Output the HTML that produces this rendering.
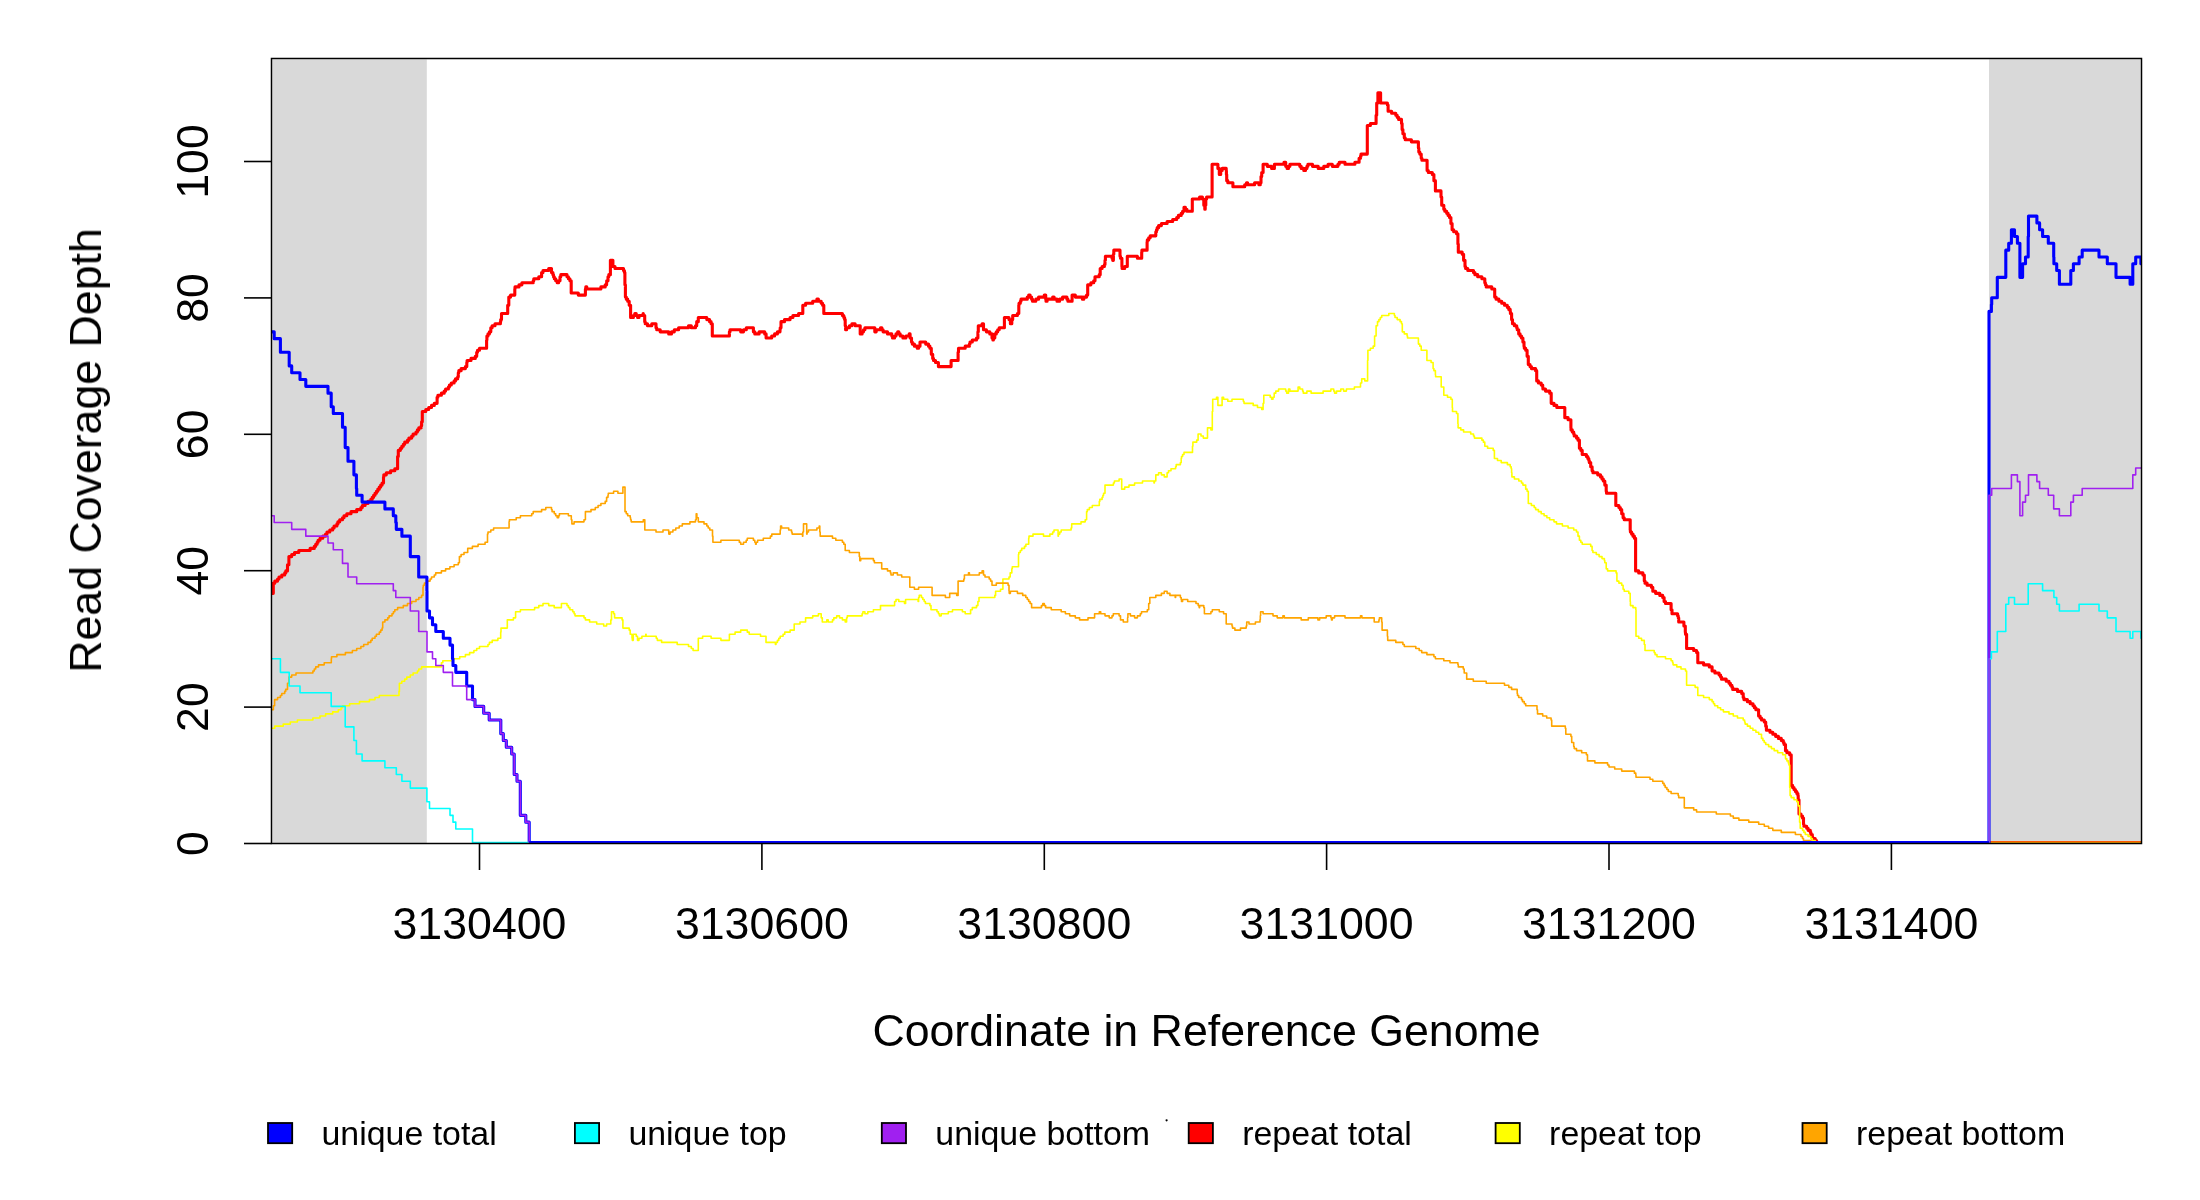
<!DOCTYPE html>
<html><head><meta charset="utf-8"><style>html,body{margin:0;padding:0;background:#fff;width:2200px;height:1200px;overflow:hidden}svg{display:block}text{font-family:"Liberation Sans",sans-serif}</style></head>
<body><svg width="2200" height="1200" viewBox="0 0 2200 1200" font-family="Liberation Sans, sans-serif" fill="#000"><rect x="272.4" y="59.4" width="154.4" height="784.6" fill="#d9d9d9"/>
<rect x="1989" y="59.4" width="151.6" height="784.6" fill="#d9d9d9"/>
<defs><clipPath id="pc"><rect x="271.5" y="58.5" width="1870" height="785"/></clipPath></defs><g clip-path="url(#pc)">
<path d="M272.0,593.35H273.3V583.14H274.8V581.10H277.6V579.05H279.0V577.01H281.8V574.97H284.7V572.92H285.8V570.88H287.5V564.75H288.9V556.58H291.7V554.54H294.5V552.49H298.8V550.45H310.1V548.41H314.3V546.37H315.7V544.32H317.1V542.28H318.1V540.24H320.0V538.19H322.8V536.15H325.6V534.11H327.0V532.06H329.8V530.02H332.7V527.98H334.1V525.94H336.9V523.89H337.9V521.85H339.7V519.81H342.5V517.76H344.0V515.72H346.8V513.68H351.0V511.63H356.7V509.59H360.9V507.55H362.3V505.51H365.1V503.46H368.0V501.42H370.8V499.38H372.2V497.33H373.6V495.29H375.0V493.25H376.4V491.20H377.8V489.16H379.3V487.12H380.7V485.08H382.1V483.03H383.5V476.90H383.8V474.86H386.3V472.82H390.6V470.77H394.8V468.73H397.6V456.47H398.3V450.34H400.4V448.30H401.8V446.26H403.3V444.22H404.7V442.17H407.5V440.13H408.9V438.09H411.7V436.04H413.1V434.00H416.0V431.96H417.4V429.91H418.8V427.87H421.2V425.83H421.6V421.74H422.3V411.53H425.8V409.48H428.7V407.44H431.5V405.40H434.3V403.36H437.1V397.23H437.9V395.18H441.4V393.14H444.2V391.10H445.6V389.05H448.4V387.01H449.4V384.97H451.3V382.93H454.1V380.88H455.5V378.84H457.7V376.80H458.3V372.71H458.8V370.67H461.1V368.62H465.4V366.58H466.8V362.50H467.1V360.45H471.0V358.41H475.3V356.37H476.7V352.28H477.5V350.24H479.5V348.19H486.6V340.02H486.9V335.94H488.0V333.89H489.4V331.85H490.8V327.76H492.1V325.72H495.0V323.68H500.4V321.64H500.7V319.59H501.5V313.46H507.7V305.29H508.8V297.12H510.6V295.08H514.8V288.95H515.0V286.90H519.0V284.86H521.9V282.82H533.2V280.78H533.8V278.73H538.8V276.69H541.6V272.60H543.0V270.56H548.7V268.52H551.5V272.60H552.9V274.65H553.5V276.69H554.3V278.73H555.7V280.78H557.2V282.82H558.6V280.78H560.0V276.69H560.8V274.65H567.0V276.69H568.4V278.73H569.9V280.78H571.2V293.03H578.3V295.08H585.4V288.95H585.8V286.90H586.8V288.95H600.9V286.90H605.2V284.86H606.6V282.82H606.7V280.78H608.0V276.69H608.8V274.65H610.4V260.35H612.9V266.47H615.0V268.52H623.5V270.56H624.4V272.60H624.9V284.86H625.4V297.12H626.3V299.16H627.7V301.21H629.2V305.29H630.6V317.55H633.4V315.51H634.8V313.46H636.2V315.51H637.6V317.55H639.0V315.51H643.1V313.46H643.3V315.51H644.7V321.64H645.2V323.68H647.5V325.72H651.8V323.68H656.0V327.76H656.7V329.81H660.2V331.85H668.7V333.89H671.5V331.85H674.3V329.81H678.6V327.76H688.5V325.72H691.3V327.76H695.5V325.72H696.7V321.64H698.3V317.55H706.8V319.59H709.6V321.64H711.1V323.68H712.3V335.94H729.4V331.85H730.0V329.81H740.7V331.85H743.5V329.81H746.3V327.76H753.4V331.85H754.8V333.89H759.1V331.85H764.7V333.89H766.1V337.98H771.7V335.94H774.6V333.89H777.4V331.85H780.0V329.81H780.2V327.76H781.0V321.64H784.5V319.59H790.1V317.55H792.9V315.51H798.6V313.46H802.8V305.29H805.6V303.25H812.7V301.21H816.9V299.16H818.4V301.21H821.2V303.25H822.6V305.29H823.8V313.46H842.4V315.51H843.8V317.55H844.6V319.59H845.2V325.72H845.6V329.81H846.6V327.76H849.4V325.72H851.9V323.68H855.1V325.72H860.2V333.89H862.1V331.85H863.5V329.81H864.9V327.76H874.8V331.85H876.2V329.81H880.5V327.76H881.9V329.81H883.1V331.85H887.5V333.89H891.8V335.94H892.5V337.98H894.6V335.94H896.0V333.89H897.7V331.85H898.8V333.89H900.2V335.94H902.9V337.98H905.9V335.94H909.2V333.89H910.1V337.98H911.5V342.07H912.3V344.11H914.4V346.15H917.2V348.19H918.6V346.15H920.0V342.07H925.7V344.11H928.5V346.15H929.9V348.19H931.3V354.32H932.7V358.41H933.5V360.45H935.5V362.50H938.4V366.58H951.1V360.45H958.1V352.28H958.5V348.19H965.2V346.15H969.4V344.11H970.0V342.07H972.3V340.02H976.5V337.98H977.9V331.85H978.3V325.72H982.1V323.68H983.5V329.81H986.4V331.85H989.8V333.89H992.0V337.98H992.9V340.02H993.4V337.98H994.8V333.89H996.3V331.85H997.7V329.81H999.2V327.76H1004.4V317.55H1009.0V319.59H1010.4V323.68H1011.8V319.59H1012.7V315.51H1017.4V313.46H1018.8V305.29H1019.0V303.25H1020.3V301.21H1021.0V299.16H1027.3V297.12H1028.7V295.08H1030.1V297.12H1031.6V299.16H1032.5V301.21H1035.8V299.16H1038.6V297.12H1044.3V295.08H1045.7V299.16H1046.0V301.21H1047.1V299.16H1052.7V297.12H1054.1V299.16H1057.0V301.21H1059.6V299.16H1062.6V297.12H1066.9V299.16H1067.9V301.21H1072.1V295.08H1075.3V297.12H1082.4V299.16H1083.8V297.12H1086.6V295.08H1087.7V284.86H1090.9V282.82H1093.7V280.78H1095.0V276.69H1099.2V274.65H1100.2V268.52H1102.1V266.47H1104.4V264.43H1105.0V260.35H1105.4V256.26H1112.0V258.30H1112.7V260.35H1113.4V254.22H1113.8V250.13H1120.0V256.26H1120.5V258.30H1121.9V266.47H1122.1V268.52H1124.7V266.47H1127.3V256.26H1137.4V258.30H1141.7V252.17H1141.9V250.13H1147.1V241.96H1147.3V239.92H1148.7V237.87H1150.2V235.83H1155.8V231.74H1156.5V229.70H1157.2V227.66H1158.6V225.61H1161.4V223.57H1167.1V221.53H1172.7V219.49H1176.7V217.44H1178.4V215.40H1181.2V213.36H1182.6V211.31H1184.0V207.23H1185.4V209.27H1186.9V211.31H1192.3V199.06H1199.6V197.01H1202.4V199.06H1203.8V205.18H1204.8V209.27H1205.2V205.18H1205.8V199.06H1206.6V197.01H1212.1V164.32H1217.9V168.41H1219.3V174.54H1220.7V170.45H1222.2V168.41H1226.2V170.45H1226.4V174.54H1226.7V180.67H1227.8V182.71H1232.9V186.80H1244.7V184.75H1246.5V182.71H1247.6V184.75H1254.6V182.71H1258.9V184.75H1260.3V182.71H1261.0V176.58H1261.7V172.50H1263.1V164.32H1267.3V166.37H1271.6V168.41H1274.4V164.32H1284.0V162.28H1285.7V166.37H1287.1V168.41H1288.5V166.37H1289.9V164.32H1299.8V166.37H1301.2V168.41H1303.8V170.45H1305.5V168.41H1306.9V166.37H1307.9V164.32H1312.5V166.37H1318.2V168.41H1323.8V166.37H1328.1V164.32H1332.3V166.37H1337.9V164.32H1339.2V162.28H1345.0V164.32H1354.9V162.28H1359.1V158.20H1360.5V156.15H1361.0V154.11H1367.3V125.51H1370.4V123.46H1376.1V115.29H1376.7V103.03H1377.9V92.82H1380.6V103.03H1387.4V105.08H1388.1V111.21H1391.6V113.25H1395.8V115.29H1397.2V117.34H1398.6V119.38H1401.5V123.46H1402.1V129.59H1402.9V133.68H1404.3V137.77H1405.2V139.81H1411.4V141.85H1418.4V147.98H1418.8V152.07H1419.8V154.11H1421.2V158.20H1421.9V160.24H1427.1V170.45H1428.3V172.50H1432.3V174.54H1433.9V180.67H1435.4V190.88H1441.0V197.01H1441.7V205.18H1443.8V209.27H1444.8V211.31H1446.7V213.36H1448.1V215.40H1449.5V217.44H1450.9V223.57H1452.1V229.70H1453.7V231.74H1456.5V233.79H1457.9V244.00H1458.3V252.17H1462.2V254.22H1463.6V260.35H1465.0V266.47H1465.6V268.52H1467.8V270.56H1473.5V272.60H1474.9V274.65H1477.7V276.69H1481.9V278.73H1484.8V282.82H1485.4V284.86H1486.2V286.90H1491.8V288.95H1494.7V297.12H1496.1V299.16H1498.9V301.21H1501.7V303.25H1504.5V305.29H1507.3V307.33H1508.8V309.38H1510.2V311.42H1510.4V313.46H1511.6V319.59H1512.5V323.68H1514.4V325.72H1516.7V327.76H1517.2V329.81H1518.7V333.89H1520.1V335.94H1521.5V337.98H1522.9V342.07H1524.0V346.15H1524.3V348.19H1525.7V350.24H1527.1V356.37H1528.3V364.54H1530.0V366.58H1531.4V368.62H1535.6V370.67H1536.7V380.88H1538.4V382.93H1541.2V384.97H1542.7V387.01H1542.9V389.05H1545.5V391.10H1549.7V393.14H1551.2V403.36H1554.0V405.40H1556.8V407.44H1564.8V417.66H1568.1V419.70H1570.9V427.87H1571.0V429.91H1572.3V431.96H1573.7V434.00H1574.2V436.04H1576.5V438.09H1578.0V440.13H1579.4V448.30H1580.8V450.34H1582.2V454.43H1586.4V456.47H1587.8V458.52H1588.8V460.56H1589.3V462.60H1590.7V466.69H1592.1V470.77H1592.9V472.82H1597.7V474.86H1600.5V476.90H1602.0V478.95H1603.3V480.99H1604.8V485.08H1606.2V491.20H1606.5V493.25H1615.8V505.51H1618.9V507.55H1620.3V509.59H1621.7V513.68H1623.1V517.76H1624.2V519.81H1630.2V530.02H1630.4V532.06H1631.6V534.11H1633.0V536.15H1634.4V538.19H1635.6V570.88H1638.7V572.92H1642.9V574.97H1644.3V581.10H1645.0V583.14H1647.1V585.18H1651.4V587.23H1652.8V591.31H1655.6V593.35H1659.8V595.40H1662.7V597.44H1664.1V601.53H1665.5V603.57H1671.1V609.70H1672.0V613.78H1677.6V615.83H1678.2V617.87H1678.7V621.96H1683.9V626.04H1685.3V632.17H1685.5V634.21H1686.6V648.52H1693.7V650.56H1696.6V652.60H1697.8V662.82H1703.6V664.86H1709.3V666.90H1712.1V670.99H1714.9V673.03H1719.1V675.07H1720.6V677.12H1721.5V679.16H1726.2V681.20H1729.0V683.25H1730.4V685.29H1731.9V687.33H1732.7V689.38H1737.5V691.42H1741.7V693.46H1743.2V697.55H1743.9V699.59H1747.4V701.63H1750.2V703.68H1753.0V705.72H1754.4V707.76H1755.9V709.81H1758.6V715.93H1760.1V717.98H1761.5V720.02H1764.3V722.06H1765.7V726.15H1766.4V730.24H1770.0V732.28H1772.8V734.32H1775.6V736.36H1778.4V738.41H1781.3V740.45H1783.3V742.49H1784.1V744.54H1785.5V750.67H1786.9V752.71H1789.7V754.75H1791.2V785.40H1792.6V787.44H1794.0V789.48H1795.4V791.52H1796.8V793.57H1797.9V795.61H1798.2V799.70H1799.0V814.00H1801.0V816.04H1802.5V818.08H1803.5V824.21H1803.9V826.26H1806.7V828.30H1808.1V830.34H1810.3V832.38H1810.9V834.43H1812.3V836.47H1812.6V838.51H1815.2V840.56H1816.6V842.60H2141.5" fill="none" stroke="#ff0000" stroke-width="3.1" stroke-linejoin="round" stroke-linecap="round"/>
<path d="M272.0,728.19H274.8V726.15H283.2V724.11H290.3V722.06H297.4V720.02H312.9V717.98H320.0V715.93H325.6V713.89H332.7V711.85H338.3V709.81H341.1V707.76H342.5V705.72H349.6V703.68H359.5V701.63H369.4V699.59H375.0V697.55H379.3V695.50H399.0V691.42H399.4V683.25H401.8V681.20H404.7V679.16H406.8V677.12H410.3V675.07H413.1V673.03H417.4V670.99H418.8V668.95H421.6V666.90H441.4V662.82H442.8V660.77H452.7V658.73H459.7V656.69H465.4V654.64H469.6V652.60H473.9V650.56H476.7V648.52H479.5V646.47H488.0V644.43H489.4V642.39H492.2V640.34H497.9V638.30H500.7V632.17H501.0V628.09H507.3V619.91H513.4V617.87H515.6V611.74H520.4V609.70H534.6V607.65H538.8V605.61H543.0V603.57H548.7V605.61H554.2V607.65H561.4V603.57H567.0V605.61H568.4V607.65H569.9V609.70H572.7V611.74H574.1V613.78H575.0V615.83H584.0V617.87H585.4V619.91H589.6V621.96H596.7V624.00H603.7V626.04H606.6V624.00H610.8V619.91H611.5V611.74H613.6V613.78H614.6V617.87H622.1V619.91H622.9V628.09H629.2V630.13H630.2V634.21H632.0V638.30H632.3V640.34H633.3V634.21H636.2V636.26H637.5V640.34H639.0V638.30H641.9V636.26H645.8V634.21H646.1V636.26H656.2V638.30H657.3V640.34H661.6V642.39H677.2V644.43H688.5V646.47H691.3V648.52H693.1V650.56H698.3V638.30H702.6V636.26H711.1V638.30H720.9V640.34H729.4V634.21H735.1V632.17H740.7V630.13H747.3V632.17H749.2V634.21H760.5V636.26H766.0V642.39H775.4V644.43H776.0V642.39H777.4V640.34H778.8V638.30H780.2V636.26H783.1V634.21H784.8V632.17H790.1V630.13H794.2V624.00H800.0V621.96H805.6V617.87H812.7V615.83H818.4V613.78H821.2V617.87H822.3V621.96H826.8V619.91H828.2V621.96H832.5V619.91H833.8V617.87H836.7V615.83H839.5V617.87H842.4V619.91H845.2V621.96H846.6V617.87H847.3V615.83H862.1V613.78H862.9V611.74H864.9V613.78H867.8V611.74H873.4V609.70H880.5V605.61H894.6V601.53H896.0V599.48H898.8V601.53H904.5V603.57H905.6V599.48H918.1V601.53H918.6V597.44H919.2V595.40H921.4V597.44H922.8V599.48H924.2V601.53H925.4V603.57H929.9V605.61H931.0V609.70H937.0V611.74H938.4V613.78H939.4V615.83H941.2V613.78H948.3V611.74H952.5V609.70H962.4V611.74H965.2V613.78H970.6V609.70H972.3V607.65H976.5V605.61H977.9V601.53H979.0V597.44H994.8V595.40H995.6V591.31H1000.5V589.27H1002.9V579.05H1009.0V577.01H1010.2V572.92H1011.8V568.84H1012.3V566.80H1018.5V554.54H1018.8V552.49H1020.3V550.45H1021.7V548.41H1024.5V546.37H1025.9V544.32H1028.7V538.19H1029.0V536.15H1033.0V534.11H1043.5V536.15H1049.9V534.11H1052.7V532.06H1054.0V530.02H1058.1V536.15H1058.4V534.11H1059.8V532.06H1061.2V530.02H1071.1V527.98H1071.7V523.89H1081.0V521.85H1085.2V519.81H1086.6V511.63H1087.3V509.59H1089.4V507.55H1092.3V505.51H1099.3V501.42H1099.8V499.38H1102.1V497.33H1102.9V495.29H1103.6V493.25H1105.0V485.08H1113.4V483.03H1114.4V480.99H1119.1V478.95H1121.7V489.16H1124.7V487.12H1129.0V485.08H1134.6V483.03H1142.5V480.99H1154.0V483.03H1154.4V480.99H1155.8V474.86H1158.6V472.82H1161.4V474.86H1164.3V476.90H1167.1V472.82H1168.5V470.77H1171.0V468.73H1175.6V466.69H1176.2V464.65H1180.4V462.60H1181.2V458.52H1181.5V456.47H1182.6V454.43H1184.0V452.39H1192.5V446.26H1192.9V442.17H1196.7V440.13H1198.1V434.00H1201.0V436.04H1203.3V438.09H1207.5V427.87H1210.9V429.91H1212.3V411.53H1212.7V399.27H1216.5V397.23H1217.9V405.40H1222.1V397.23H1223.6V399.27H1227.8V401.31H1232.0V399.27H1243.3V401.31H1244.0V403.36H1253.2V405.40H1257.5V407.44H1261.7V409.48H1263.1V403.36H1263.8V395.18H1270.2V397.23H1271.6V399.27H1273.0V397.23H1274.2V393.14H1275.8V391.10H1278.6V389.05H1285.7V391.10H1286.7V393.14H1288.5V389.05H1289.9V391.10H1298.1V387.01H1299.8V389.05H1302.6V391.10H1303.3V393.14H1306.9V391.10H1311.1V393.14H1323.1V391.10H1330.9V389.05H1333.7V391.10H1334.6V393.14H1336.5V391.10H1340.8V389.05H1343.6V391.10H1346.4V389.05H1354.4V387.01H1360.5V382.93H1361.7V378.84H1364.8V380.88H1367.6V360.45H1367.9V350.24H1370.4V348.19H1373.2V346.15H1374.6V335.94H1376.1V325.72H1377.5V321.64H1378.9V319.59H1380.3V317.55H1381.7V315.51H1388.8V313.46H1394.4V315.51H1395.0V317.55H1397.2V319.59H1400.1V321.64H1401.5V323.68H1402.3V331.85H1404.3V333.89H1407.1V335.94H1407.5V337.98H1418.4V344.11H1419.8V346.15H1421.2V350.24H1426.9V360.45H1431.1V362.50H1433.1V368.62H1433.9V370.67H1435.4V374.75H1435.6V376.80H1441.2V387.01H1443.8V395.18H1447.5V397.23H1450.9V399.27H1452.3V407.44H1452.5V411.53H1456.5V413.57H1457.9V423.79H1458.1V427.87H1460.8V429.91H1463.6V431.96H1470.7V434.00H1473.5V436.04H1474.4V438.09H1481.9V440.13H1483.4V442.17H1484.8V446.26H1487.6V448.30H1493.2V450.34H1494.4V458.52H1497.5V460.56H1501.2V462.60H1507.4V464.65H1510.2V466.69H1511.2V468.73H1511.6V472.82H1511.9V476.90H1514.4V478.95H1518.8V480.99H1521.5V483.03H1522.9V485.08H1525.7V489.16H1527.1V491.20H1528.3V503.46H1531.4V505.51H1534.2V507.55H1535.6V509.59H1538.4V511.63H1541.2V513.68H1544.1V515.72H1546.9V517.76H1549.7V519.81H1554.0V521.85H1556.5V523.89H1562.4V525.94H1568.1V527.98H1573.7V530.02H1576.5V532.06H1578.0V536.15H1579.4V540.24H1580.8V542.28H1582.2V544.32H1590.7V546.37H1592.1V550.45H1592.9V552.49H1596.3V554.54H1599.1V556.58H1602.0V558.62H1604.4V560.67H1604.8V562.71H1606.2V568.84H1607.6V570.88H1616.1V572.92H1616.9V581.10H1618.9V583.14H1621.7V585.18H1623.1V589.27H1624.2V591.31H1628.8V593.35H1630.2V601.53H1630.4V605.61H1633.0V607.65H1635.8V609.70H1636.0V636.26H1638.7V638.30H1641.5V640.34H1644.3V644.43H1645.0V650.56H1654.2V652.60H1655.1V654.64H1657.0V656.69H1665.5V658.73H1671.1V660.77H1672.6V662.82H1673.1V664.86H1676.8V666.90H1681.0V668.95H1685.5V670.99H1686.6V685.29H1695.1V687.33H1697.8V695.50H1703.6V697.55H1709.3V699.59H1712.1V701.63H1713.5V703.68H1714.7V705.72H1717.7V707.76H1720.6V709.81H1723.4V711.85H1729.0V713.89H1733.3V715.93H1737.5V717.98H1743.2V720.02H1744.6V722.06H1745.1V724.11H1747.4V726.15H1750.2V728.19H1752.9V730.24H1755.9V732.28H1758.7V734.32H1761.5V738.41H1762.9V740.45H1764.2V742.49H1765.7V744.54H1768.6V746.58H1771.4V748.62H1774.2V750.67H1777.7V752.71H1782.7V754.75H1785.5V758.84H1786.9V760.88H1788.3V762.92H1788.9V764.97H1789.7V787.44H1790.1V795.61H1791.2V797.65H1794.0V799.70H1796.8V801.74H1798.2V805.83H1799.6V822.17H1800.2V828.30H1802.5V830.34H1803.9V832.38H1805.3V834.43H1808.1V836.47H1810.9V838.51H1812.3V840.56H1815.2V842.60H2141.5" fill="none" stroke="#ffff00" stroke-width="1.6" stroke-linejoin="round" stroke-linecap="round"/>
<path d="M272.0,709.81H273.4V705.72H274.6V699.59H277.6V697.55H280.4V695.50H281.8V693.46H284.7V691.42H285.7V689.38H287.5V683.25H288.9V677.12H291.7V675.07H296.0V673.03H312.9V670.99H314.3V668.95H315.7V666.90H318.5V664.86H324.2V662.82H331.3V658.73H331.5V656.69H336.9V654.64H345.4V652.60H352.4V650.56H356.7V648.52H360.9V646.47H363.7V644.43H368.0V642.39H370.8V640.34H372.2V638.30H375.0V636.26H376.4V634.21H379.3V632.17H380.7V630.13H382.1V628.09H382.7V621.96H384.9V619.91H387.7V617.87H389.1V615.83H392.0V613.78H393.4V611.74H394.8V609.70H397.6V607.65H403.3V605.61H407.5V603.57H411.7V601.53H416.0V599.48H418.8V597.44H421.6V595.40H423.0V587.23H423.3V585.18H424.4V583.14H427.3V581.10H430.1V579.05H431.5V577.01H434.3V574.97H435.7V572.92H441.4V570.88H445.6V568.84H449.9V566.80H454.1V564.75H458.3V562.71H459.4V556.58H461.1V554.54H464.0V552.49H467.7V548.41H472.4V546.37H478.1V544.32H485.1V542.28H487.5V534.11H488.0V532.06H490.8V530.02H493.6V527.98H509.1V521.85H509.4V519.81H516.2V517.76H520.4V515.72H531.7V513.68H533.2V511.63H541.6V509.59H545.8V507.55H551.5V509.59H552.1V511.63H554.3V513.68H555.7V515.72H557.2V517.76H558.6V515.72H559.4V513.68H568.4V515.72H571.3V519.81H571.9V523.89H574.1V521.85H584.0V519.81H585.4V511.63H591.0V509.59H595.3V507.55H598.1V505.51H600.9V503.46H605.2V501.42H606.6V497.33H608.0V495.29H608.3V493.25H613.6V491.20H617.9V493.25H622.9V487.12H625.0V511.63H626.3V513.68H627.7V515.72H630.2V517.76H630.6V519.81H631.2V521.85H643.3V519.81H644.8V530.02H656.0V532.06H663.0V530.02H668.7V532.06H668.8V534.11H670.1V532.06H672.9V530.02H675.8V527.98H679.2V525.94H682.3V523.89H689.9V521.85H695.5V519.81H696.2V513.68H696.9V517.76H698.3V521.85H704.0V523.89H706.8V525.94H708.2V527.98H709.8V530.02H712.5V536.15H712.9V542.28H720.9V540.24H739.3V542.28H740.7V544.32H743.5V542.28H746.2V540.24H747.3V538.19H753.4V540.24H754.8V542.28H755.6V544.32H756.2V542.28H757.6V540.24H763.3V538.19H770.4V536.15H771.8V534.11H780.2V530.02H780.6V525.94H781.6V527.98H788.7V530.02H791.5V532.06H792.1V534.11H802.5V536.15H802.8V532.06H803.5V523.89H806.7V534.11H807.1V532.06H808.5V530.02H816.9V527.98H819.2V525.94H819.8V532.06H820.2V536.15H832.5V538.19H835.8V540.24H842.4V542.28H843.8V544.32H845.2V550.45H849.4V552.49H859.3V556.58H859.8V560.67H860.7V558.62H873.4V560.67H874.4V562.71H881.7V568.84H887.5V570.88H890.4V572.92H891.0V574.97H893.2V572.92H897.4V574.97H901.7V577.01H909.8V587.23H914.4V589.27H918.6V587.23H932.1V595.40H945.4V597.44H949.7V593.35H956.7V595.40H958.1V581.10H963.8V579.05H964.4V574.97H968.5V572.92H969.4V574.97H979.3V572.92H982.1V570.88H983.5V574.97H985.0V577.01H989.2V579.05H990.6V581.10H992.0V585.18H996.3V583.14H1008.1V585.18H1009.0V591.31H1009.2V593.35H1010.4V591.31H1017.4V593.35H1022.7V595.40H1025.8V597.44H1027.3V599.48H1028.7V601.53H1030.1V603.57H1031.6V607.65H1041.4V605.61H1042.8V603.57H1044.3V605.61H1045.6V607.65H1051.3V609.70H1061.2V611.74H1065.4V613.78H1069.7V615.83H1075.3V617.87H1079.6V619.91H1088.0V617.87H1094.6V613.78H1099.3V611.74H1100.7V613.78H1105.0V615.83H1109.2V617.87H1112.0V615.83H1113.3V613.78H1119.1V615.83H1120.5V619.91H1123.3V621.96H1127.6V617.87H1127.9V613.78H1130.4V615.83H1134.6V617.87H1137.4V615.83H1140.3V613.78H1141.5V611.74H1147.3V609.70H1148.7V603.57H1149.8V597.44H1155.8V595.40H1161.4V593.35H1164.3V591.31H1167.1V593.35H1169.9V595.40H1175.2V597.44H1175.6V595.40H1180.4V597.44H1181.2V599.48H1181.5V601.53H1182.6V599.48H1187.7V601.53H1196.0V603.57H1198.2V605.61H1199.2V607.65H1199.6V605.61H1203.8V607.65H1204.4V613.78H1210.9V611.74H1212.3V609.70H1219.3V611.74H1223.6V613.78H1226.2V624.00H1232.0V626.04H1232.5V628.09H1234.9V630.13H1240.5V628.09H1246.2V626.04H1246.7V621.96H1249.0V624.00H1255.4V621.96H1260.0V619.91H1260.3V615.83H1260.6V611.74H1263.1V613.78H1273.0V615.83H1277.2V617.87H1282.9V615.83H1284.3V617.87H1301.2V619.91H1308.3V617.87H1317.9V619.91H1319.6V617.87H1326.2V615.83H1330.9V617.87H1331.5V619.91H1332.3V617.87H1334.6V615.83H1345.0V617.87H1360.5V615.83H1361.9V617.87H1374.2V621.96H1378.9V619.91H1379.4V617.87H1381.7V621.96H1382.1V630.13H1387.4V636.26H1387.7V640.34H1395.8V642.39H1402.9V644.43H1404.3V646.47H1415.8V648.52H1419.2V650.56H1421.7V652.60H1426.9V654.64H1433.9V656.69H1435.4V658.73H1443.8V660.77H1450.0V662.82H1457.9V664.86H1458.3V666.90H1463.3V668.95H1464.2V673.03H1466.7V679.16H1473.3V681.20H1486.2V683.25H1504.5V685.29H1508.8V687.33H1511.6V689.38H1517.2V693.46H1517.5V695.50H1518.7V697.55H1521.5V699.59H1522.5V701.63H1524.3V703.68H1525.7V705.72H1537.0V709.81H1537.5V713.89H1542.7V715.93H1546.7V717.98H1551.1V720.02H1551.7V726.15H1565.3V728.19H1565.8V734.32H1570.9V736.36H1571.7V742.49H1573.7V746.58H1574.2V748.62H1576.5V750.67H1581.7V752.71H1586.4V754.75H1587.5V760.88H1594.9V762.92H1607.6V764.97H1609.0V767.01H1614.7V769.05H1621.7V771.10H1634.4V773.14H1635.8V775.18H1636.0V777.22H1650.0V779.27H1652.8V781.31H1662.7V783.35H1664.1V785.40H1665.2V787.44H1666.9V789.48H1668.3V791.52H1671.1V793.57H1678.2V795.61H1678.7V797.65H1684.3V807.87H1693.7V809.91H1696.6V811.96H1716.3V814.00H1730.4V816.04H1733.3V818.08H1738.9V820.13H1748.8V822.17H1758.7V824.21H1764.3V826.26H1768.6V828.30H1772.8V830.34H1781.3V832.38H1795.4V834.43H1801.0V836.47H1802.5V838.51H1803.5V840.56H1810.9V842.60H2141.5" fill="none" stroke="#ffa500" stroke-width="1.6" stroke-linejoin="round" stroke-linecap="round"/>
<path d="M272.0,331.85H274.2V338.66H280.4V352.28H289.2V365.90H291.7V372.71H300.0V379.52H305.8V386.33H328.0V393.14H331.2V406.76H333.3V413.57H342.5V427.19H345.2V447.62H348.0V461.24H353.9V474.86H356.4V488.48H356.7V495.29H362.1V502.10H384.9V508.91H393.3V515.72H395.8V522.53H396.3V529.34H401.9V536.15H410.3V556.58H418.7V577.01H426.9V590.63H427.0V611.06H429.5V617.87H432.5V624.68H435.8V631.49H443.3V638.30H450.0V645.11H452.5V658.73H453.0V665.54H455.8V672.35H466.7V685.97H472.5V699.59H475.0V706.40H483.7V713.21H489.2V720.02H500.8V733.64H503.3V740.45H506.3V747.26H511.7V754.07H514.2V774.50H517.0V781.31H520.3V815.36H525.8V822.17H529.2V842.60H1989.0V311.42H1991.4V304.61H1991.7V297.80H1997.3V277.37H2005.8V250.13H2008.7V243.32H2011.4V229.70H2014.5V236.51H2017.4V243.32H2019.9V277.37H2022.6V263.75H2025.5V256.94H2028.2V236.51H2028.5V216.08H2036.9V222.89H2039.6V229.70H2042.6V236.51H2048.3V243.32H2053.7V256.94H2053.9V263.75H2056.7V270.56H2059.4V284.18H2070.8V270.56H2073.4V263.75H2079.1V256.94H2082.2V250.13H2099.0V256.94H2107.3V263.75H2116.0V277.37H2130.1V284.18H2132.8V263.75H2135.7V256.94H2140.9V263.75H2141.5" fill="none" stroke="#0000ff" stroke-width="3.1" stroke-linejoin="round" stroke-linecap="round"/>
<path d="M272.0,658.73H280.4V672.35H289.2V685.97H300.0V692.78H331.2V706.40H345.2V726.83H353.9V740.45H356.4V754.07H362.1V760.88H384.9V767.69H396.3V774.50H401.9V781.31H410.3V788.12H426.9V801.74H429.5V808.55H450.0V815.36H453.0V822.17H455.8V828.98H472.5V842.60H1989.0V658.73H1991.4V651.92H1997.3V631.49H2005.8V604.25H2008.7V597.44H2014.5V604.25H2028.2V583.82H2042.6V590.63H2053.9V597.44H2056.7V604.25H2059.4V611.06H2079.1V604.25H2099.0V611.06H2107.3V617.87H2116.0V631.49H2130.1V638.30H2132.8V631.49H2140.9V638.30H2141.5" fill="none" stroke="#00ffff" stroke-width="1.6" stroke-linejoin="round" stroke-linecap="round"/>
<path d="M272.0,515.72H274.2V522.53H291.7V529.34H305.8V536.15H328.0V542.96H333.3V549.77H342.5V563.39H348.0V577.01H356.7V583.82H393.3V590.63H395.8V597.44H410.3V611.06H418.7V631.49H427.0V651.92H432.5V658.73H435.8V665.54H443.3V672.35H452.5V685.97H466.7V699.59H475.0V706.40H483.7V713.21H489.2V720.02H500.8V733.64H503.3V740.45H506.3V747.26H511.7V754.07H514.2V774.50H517.0V781.31H520.3V815.36H525.8V822.17H529.2V842.60H1989.0V495.29H1991.7V488.48H2011.4V474.86H2017.4V481.67H2019.9V515.72H2022.6V502.10H2025.5V495.29H2028.5V474.86H2036.9V481.67H2039.6V488.48H2048.3V495.29H2053.7V508.91H2059.4V515.72H2070.8V502.10H2073.4V495.29H2082.2V488.48H2132.8V474.86H2135.7V468.05H2141.5" fill="none" stroke="#a020f0" stroke-width="1.6" stroke-linejoin="round" stroke-linecap="round"/>
<path d="M529.2,842.60H1989" fill="none" stroke="#0000ff" stroke-width="3.1"/>
</g>
<rect x="271.5" y="58.5" width="1870.0" height="785.0" fill="none" stroke="#000" stroke-width="1.5"/>
<line x1="244" y1="843.5" x2="271.5" y2="843.5" stroke="#000" stroke-width="1.6"/>
<line x1="244" y1="707.1" x2="271.5" y2="707.1" stroke="#000" stroke-width="1.6"/>
<line x1="244" y1="570.7" x2="271.5" y2="570.7" stroke="#000" stroke-width="1.6"/>
<line x1="244" y1="434.29999999999995" x2="271.5" y2="434.29999999999995" stroke="#000" stroke-width="1.6"/>
<line x1="244" y1="297.9" x2="271.5" y2="297.9" stroke="#000" stroke-width="1.6"/>
<line x1="244" y1="161.5" x2="271.5" y2="161.5" stroke="#000" stroke-width="1.6"/>
<line x1="479.5" y1="843.5" x2="479.5" y2="870" stroke="#000" stroke-width="1.6"/>
<line x1="761.9" y1="843.5" x2="761.9" y2="870" stroke="#000" stroke-width="1.6"/>
<line x1="1044.3" y1="843.5" x2="1044.3" y2="870" stroke="#000" stroke-width="1.6"/>
<line x1="1326.6" y1="843.5" x2="1326.6" y2="870" stroke="#000" stroke-width="1.6"/>
<line x1="1609.0" y1="843.5" x2="1609.0" y2="870" stroke="#000" stroke-width="1.6"/>
<line x1="1891.4" y1="843.5" x2="1891.4" y2="870" stroke="#000" stroke-width="1.6"/>
<circle cx="1166.6" cy="1120.3" r="1.1" fill="#000"/>
<rect x="268.0" y="1123" width="24.2" height="20.2" fill="#0000ff" stroke="#000" stroke-width="1.8"/>
<rect x="574.9" y="1123" width="24.2" height="20.2" fill="#00ffff" stroke="#000" stroke-width="1.8"/>
<rect x="881.8" y="1123" width="24.2" height="20.2" fill="#a020f0" stroke="#000" stroke-width="1.8"/>
<rect x="1188.7" y="1123" width="24.2" height="20.2" fill="#ff0000" stroke="#000" stroke-width="1.8"/>
<rect x="1495.6" y="1123" width="24.2" height="20.2" fill="#ffff00" stroke="#000" stroke-width="1.8"/>
<rect x="1802.5" y="1123" width="24.2" height="20.2" fill="#ffa500" stroke="#000" stroke-width="1.8"/>
<g opacity="0.999">
<text transform="translate(208,843.5) rotate(-90)" text-anchor="middle" font-size="44.7">0</text>
<text transform="translate(208,707.1) rotate(-90)" text-anchor="middle" font-size="44.7">20</text>
<text transform="translate(208,570.7) rotate(-90)" text-anchor="middle" font-size="44.7">40</text>
<text transform="translate(208,434.29999999999995) rotate(-90)" text-anchor="middle" font-size="44.7">60</text>
<text transform="translate(208,297.9) rotate(-90)" text-anchor="middle" font-size="44.7">80</text>
<text transform="translate(208,161.5) rotate(-90)" text-anchor="middle" font-size="44.7">100</text>
<text x="479.5" y="939" text-anchor="middle" font-size="44.7">3130400</text>
<text x="761.9" y="939" text-anchor="middle" font-size="44.7">3130600</text>
<text x="1044.3" y="939" text-anchor="middle" font-size="44.7">3130800</text>
<text x="1326.6" y="939" text-anchor="middle" font-size="44.7">3131000</text>
<text x="1609.0" y="939" text-anchor="middle" font-size="44.7">3131200</text>
<text x="1891.4" y="939" text-anchor="middle" font-size="44.7">3131400</text>
<text x="1206.5" y="1046" text-anchor="middle" font-size="44.7">Coordinate in Reference Genome</text>
<text transform="translate(101,450.5) rotate(-90)" text-anchor="middle" font-size="44.7">Read Coverage Depth</text>
<text x="321.5" y="1145" font-size="33.9">unique total</text>
<text x="628.4" y="1145" font-size="33.9">unique top</text>
<text x="935.3" y="1145" font-size="33.9">unique bottom</text>
<text x="1242.2" y="1145" font-size="33.9">repeat total</text>
<text x="1549.1" y="1145" font-size="33.9">repeat top</text>
<text x="1856.0" y="1145" font-size="33.9">repeat bottom</text>
</g></svg></body></html>
